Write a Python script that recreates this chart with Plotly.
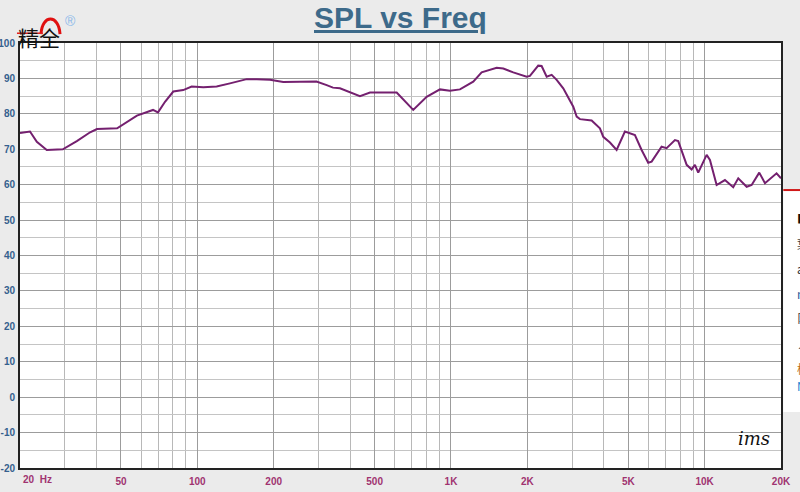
import plotly.graph_objects as go

# ---- data ----
freq_hz = [20, 21.9, 23.3, 25.5, 29.5, 33.5, 37.8, 40.2, 48.3, 57.8, 66.9, 70, 74.6, 80.4,
           88, 95, 105.6, 119.2, 134.5, 156.6, 171.5, 193.4, 218.2, 254, 295, 323.6,
           342.6, 365, 437.6, 479.5, 610.9, 709.9, 802, 904.8, 990.8, 1085, 1224, 1321,
           1514, 1608, 1760, 1987, 2048, 2208, 2277, 2384, 2494, 2610, 2771, 3035, 3130,
           3225, 3585, 3865, 3984, 4234, 4498, 4850, 5311, 5643, 5991, 6180, 6765, 7080,
           7637, 7870, 8494, 8886, 9157, 9435, 10183, 10494, 11150, 12023, 12962, 13567,
           14646, 15323, 16418, 17290, 19210, 20000]
spl_db = [74.6, 75.0, 72.1, 69.8, 70.0, 72.3, 74.8, 75.7, 75.9, 79.5, 81.1, 80.4, 83.4, 86.3,
          86.7, 87.7, 87.5, 87.7, 88.6, 89.8, 89.8, 89.6, 89.0, 89.1, 89.1, 88.1,
          87.4, 87.2, 85.0, 86.0, 86.0, 81.1, 84.8, 86.9, 86.5, 86.9, 89.1, 91.7,
          93.0, 92.8, 91.7, 90.5, 90.7, 93.6, 93.5, 90.5, 91.0, 89.6, 87.2, 82.0, 79.2,
          78.5, 78.1, 75.9, 73.5, 71.9, 69.8, 75.0, 74.0, 69.8, 66.2, 66.5, 70.7, 70.3,
          72.6, 72.3, 65.6, 64.3, 65.6, 63.4, 68.4, 67.0, 59.9, 61.3, 59.3, 61.8,
          59.4, 59.9, 63.4, 60.4, 63.2, 61.8]

x_tick_vals = [20, 50, 100, 200, 500, 1000, 2000, 5000, 10000, 20000]
x_tick_text = ["", "50", "100", "200", "500", "1K", "2K", "5K", "10K", "20K"]
y_tick_vals = [-20, -10, 0, 10, 20, 30, 40, 50, 60, 70, 80, 90, 100]
title_text = "SPL vs Freq"

fig = go.Figure()
fig.add_trace(go.Scatter(
    x=freq_hz, y=spl_db, mode="lines",
    line=dict(color="#74206f", width=2),
    hoverinfo="skip", showlegend=False,
))

fig.update_layout(
    width=800, height=492,
    margin=dict(l=20, r=19, t=43, b=24),
    paper_bgcolor="#ebebeb",
    plot_bgcolor="#ffffff",
    showlegend=False,
    font=dict(family="Liberation Sans, Arial, sans-serif"),
)

fig.update_xaxes(
    type="log", automargin=False,
    range=[1.30103, 4.30103],
    tickmode="array", tickvals=x_tick_vals,
    ticktext=["<b>%s</b>" % t if t else "" for t in x_tick_text],
    tickfont=dict(size=10, color="#a03370", family="Liberation Sans, Arial"),
    showgrid=True, gridcolor="#9c9c9c", gridwidth=1,
    minor=dict(dtick="D1", showgrid=True, gridcolor="#b8b8b8", gridwidth=1, ticks=""),
    showline=True, linecolor="#222222", linewidth=2, mirror=True,
    ticks="", ticklabelstandoff=3, zeroline=False,
)
fig.update_yaxes(
    range=[-20, 100], automargin=False,
    tickmode="array", tickvals=y_tick_vals,
    ticktext=["<b>%d</b>" % v for v in y_tick_vals],
    tickfont=dict(size=10, color="#35608e", family="Liberation Sans, Arial"),
    showgrid=True, gridcolor="#9c9c9c", gridwidth=1,
    minor=dict(dtick=5, showgrid=True, gridcolor="#c4c4c4", gridwidth=1, ticks=""),
    showline=True, linecolor="#222222", linewidth=2, mirror=True,
    ticks="", ticklabelstandoff=1, zeroline=False,
)

# title
fig.add_annotation(
    text="<b><u>%s</u></b>" % title_text,
    xref="paper", yref="paper", x=0.5, y=1.0, yshift=26,
    xanchor="center", yanchor="middle", showarrow=False,
    font=dict(size=30, color="#3d6a8a", family="Liberation Sans, Arial"),
)

# first x label "20 Hz"
fig.add_annotation(
    text="<b>20\u00a0 Hz</b>", xref="paper", yref="paper", x=0, y=0,
    xanchor="left", yanchor="top", xshift=1, yshift=-4, showarrow=False,
    font=dict(size=10, color="#a03370", family="Liberation Sans, Arial"),
)

# logo
fig.add_annotation(
    text="精全", xref="paper", yref="paper", x=0, y=1, xanchor="left", yanchor="middle",
    xshift=-4, yshift=6, showarrow=False,
    font=dict(size=21, color="#111111", family="Noto Sans CJK SC"),
)
fig.add_annotation(
    text="®", xref="paper", yref="paper", x=0, y=1, xanchor="left", yanchor="middle",
    xshift=43, yshift=22, showarrow=False,
    font=dict(size=14, color="#8ab8ea", family="Liberation Sans"),
)
fig.add_shape(type="path", xref="paper", yref="paper",
              path="M 0.0276 1.021 C 0.029 1.068, 0.051 1.068, 0.0526 1.021",
              line=dict(color="#e01010", width=3))
fig.add_shape(type="line", xref="paper", yref="paper",
              x0=-0.004, x1=0.03, y0=1.023, y1=1.023,
              line=dict(color="#e02020", width=1.5))

# handwritten "ims" signature
fig.add_annotation(
    text="<i>ims</i>", xref="paper", yref="paper", x=0.988, y=0.07,
    xanchor="right", yanchor="middle", showarrow=False,
    font=dict(size=18, color="#111111", family="DejaVu Serif"),
)

# side popup fragment on the right edge
fig.add_shape(type="rect", xref="paper", yref="paper",
              x0=1.003, x1=1.04, y0=(468 - 412) / 425, y1=0.654,
              fillcolor="#ffffff", line=dict(width=0), layer="above")
fig.add_shape(type="line", xref="paper", yref="paper",
              x0=1.003, x1=1.04, y0=0.654, y1=0.654,
              line=dict(color="#d01818", width=2))
side_chars = ["■", "葉", "a", "n", "阝", "ノ", "椅", "N"]
side_colors = ["#111111", "#444444", "#333333", "#2a5a9a", "#444444", "#444444", "#c07020", "#1a80d0"]
side_y = [218, 243, 268, 293, 318, 343, 368, 385]
for ch, col, py in zip(side_chars, side_colors, side_y):
    fig.add_annotation(
        text=ch, xref="paper", yref="paper",
        x=(795 - 20) / 761, y=(468 - py) / 425,
        xanchor="left", yanchor="middle", showarrow=False,
        font=dict(size=12, color=col, family="Noto Sans CJK SC"),
    )

fig.write_html("out.html")
